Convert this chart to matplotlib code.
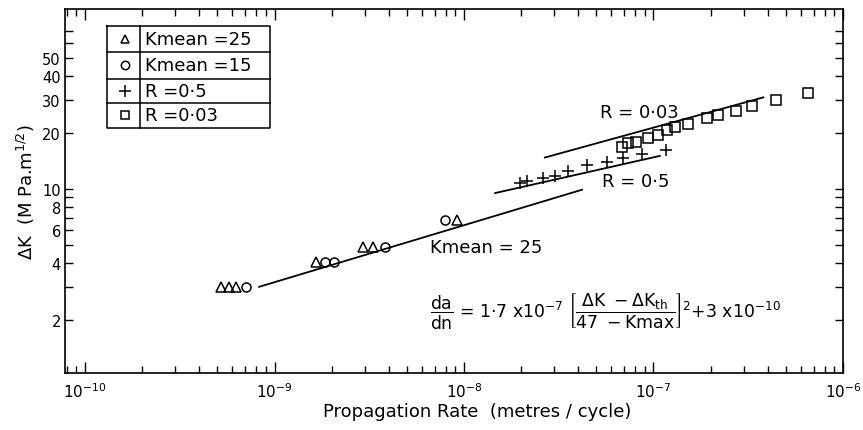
import numpy as np
import matplotlib
matplotlib.use("Agg")
import matplotlib.pyplot as plt
from matplotlib.ticker import FixedLocator, NullFormatter

plt.rcParams['font.family'] = ['DejaVu Sans']
plt.rcParams['mathtext.default'] = 'regular'

# Kmean = 25 (triangles)
k25_rate = [5.2e-10, 5.75e-10, 6.3e-10, 1.66e-9, 2.93e-9, 3.31e-9, 9.2e-9]
k25_dk = [3.0, 3.0, 3.0, 4.05, 4.9, 4.9, 6.85]
# Kmean = 15 (circles)
k15_rate = [7.1e-10, 1.85e-9, 2.06e-9, 3.83e-9, 7.9e-9]
k15_dk = [3.0, 4.05, 4.05, 4.9, 6.85]
# R = 0.5 (plus)
r05_rate = [1.97e-8, 2.15e-8, 2.61e-8, 3.02e-8, 3.54e-8, 4.46e-8, 5.69e-8, 6.9e-8, 8.69e-8, 1.16e-7]
r05_dk = [10.7, 11.0, 11.5, 11.7, 12.4, 13.4, 13.9, 14.7, 15.3, 16.2]
# R = 0.03 (squares)
r003_rate = [6.83e-8, 7.33e-8, 8.09e-8, 9.36e-8, 1.06e-7, 1.18e-7, 1.30e-7, 1.52e-7,
             1.91e-7, 2.19e-7, 2.72e-7, 3.31e-7, 4.43e-7, 6.53e-7]
r003_dk = [16.8, 17.5, 17.9, 18.8, 19.5, 20.5, 21.5, 22.3, 23.8, 24.7, 25.9, 27.6, 29.7, 32.4]

# fitted lines
kmean_fit_x = [8.3e-10, 4.2e-8]
kmean_fit_y = [3.0, 9.9]
r05_fit_x = [1.46e-8, 1.08e-7]
r05_fit_y = [9.5, 15.0]
r003_fit_x = [2.67e-8, 3.8e-7]
r003_fit_y = [14.7, 30.8]

# ticks
x_major = [1e-10, 1e-9, 1e-8, 1e-7, 1e-6]
x_minor = [m * d for d in [1e-11, 1e-10, 1e-9, 1e-8, 1e-7] for m in range(2, 10)]
y_major = [2, 4, 6, 8, 10, 20, 30, 40, 50]
y_minor = [3, 5, 7, 9, 60, 70]

fig = plt.figure(figsize=(8.63, 4.31), dpi=100)
ax = fig.add_axes([0.0753, 0.1323, 0.9015, 0.8445])

ax.plot(k25_rate, k25_dk, '^', ms=6.5, mfc='none', mec='black', mew=1.1)
ax.plot(k15_rate, k15_dk, 'o', ms=6.5, mfc='none', mec='black', mew=1.1)
ax.plot(r05_rate, r05_dk, '+', ms=8, color='black', mew=1.1)
ax.plot(r003_rate, r003_dk, 's', ms=6.5, mfc='none', mec='black', mew=1.1)

ax.plot(kmean_fit_x, kmean_fit_y, '-', color='black', lw=1.3)
ax.plot(r05_fit_x, r05_fit_y, '-', color='black', lw=1.3)
ax.plot(r003_fit_x, r003_fit_y, '-', color='black', lw=1.3)

ax.set_xscale('log')
ax.set_yscale('log')
ax.set_xlim(7.84e-11, 1e-6)
ax.set_ylim(1.04, 91.3)

ax.xaxis.set_major_locator(FixedLocator(x_major))
ax.xaxis.set_minor_locator(FixedLocator([v for v in x_minor if 7.9e-11 < v < 1e-6]))
ax.xaxis.set_minor_formatter(NullFormatter())
ax.tick_params(axis='x', which='major', direction='in', length=8, width=1,
               top=True, labelsize=11, pad=6)
ax.tick_params(axis='x', which='minor', direction='in', length=5, width=1, top=True)

ax.yaxis.set_major_locator(FixedLocator(y_major))
ax.yaxis.set_minor_locator(FixedLocator(y_minor))
ax.yaxis.set_major_formatter(plt.FuncFormatter(lambda v, p: '%d' % v))
ax.yaxis.set_minor_formatter(NullFormatter())
ax.tick_params(axis='y', which='both', direction='in', length=6, width=1,
               right=True, labelsize=10.5, pad=3)

for s in ax.spines.values():
    s.set_linewidth(1.2)

# legend box drawn by hand
tr = ax.transAxes
x0, x1, xd = 0.054, 0.2635, 0.0964
rows = [0.953, 0.882, 0.808, 0.742, 0.673]
ax.plot([x0, x1, x1, x0, x0], [rows[0], rows[0], rows[-1], rows[-1], rows[0]],
        color='black', lw=1.1, transform=tr, clip_on=False)
ax.plot([xd, xd], [rows[0], rows[-1]], color='black', lw=1.1, transform=tr)
for r in rows[1:-1]:
    ax.plot([x0, x1], [r, r], color='black', lw=1.1, transform=tr)
leg_marks = ['^', 'o', '+', 's']
leg_labels = ['Kmean =25', 'Kmean =15', 'R =0·5', 'R =0·03']
for i in range(4):
    yc = (rows[i] + rows[i + 1]) / 2
    ax.plot([0.077], [yc], leg_marks[i], ms=6 if leg_marks[i] != '+' else 8,
            mfc='none', mec='black', color='black', mew=1.1, transform=tr)
    ax.text(0.1028, yc, leg_labels[i], fontsize=13, va='center', ha='left', transform=tr)

# annotations
ax.text(0.6877, 0.717, 'R = 0·03', fontsize=13, va='center', ha='left', transform=tr)
ax.text(0.690, 0.527, 'R = 0·5', fontsize=13, va='center', ha='left', transform=tr)
ax.text(0.469, 0.346, 'Kmean = 25', fontsize=13, va='center', ha='left', transform=tr)
ax.text(0.469, 0.173,
        r'$\dfrac{da}{dn}$ = 1·7 x10$^{-7}$ $\left[\dfrac{\Delta K\ -\Delta K_{th}}{47\ -Kmax}\right]^{2}$+3 x10$^{-10}$',
        fontsize=12.4, va='center', ha='left', transform=tr)

ax.set_ylabel(r'$\Delta$K  (M Pa.m$^{1/2}$)', fontsize=13, labelpad=4)
fig.text(0.553, 0.045, 'Propagation Rate  (metres / cycle)', fontsize=13, ha='center', va='center')

fig.savefig('out.png', dpi=100)
